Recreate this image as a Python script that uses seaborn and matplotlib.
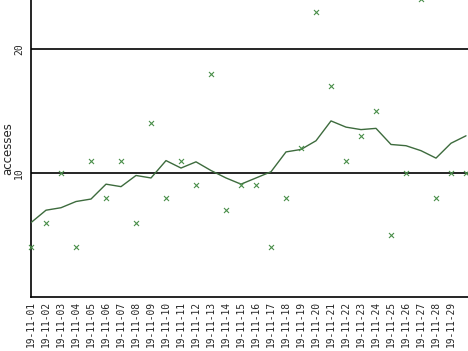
import matplotlib
matplotlib.use("Agg")
import matplotlib.pyplot as plt
import seaborn as sns
import pandas as pd
import numpy as np

dates = ["19-11-%02d" % d for d in range(1, 31)]
accesses = [4, 6, 10, 4, 11, 8, 11, 6, 14, 8, 11, 9, 18, 7, 9, 9, 4, 8, 12, 23,
            17, 11, 13, 15, 5, 10, 24, 8, 10, 10]
moving_avg = [6.0, 7.0, 7.2, 7.7, 7.9, 9.1, 8.9, 9.8, 9.6, 11.0, 10.4, 10.9, 10.2,
              9.6, 9.1, 9.6, 10.1, 11.7, 11.9, 12.6, 14.2, 13.7, 13.5, 13.6, 12.3,
              12.2, 11.8, 11.2, 12.4, 13.0]
tick_labels = dates[:29]
y_ticks = [10, 20]

df = pd.DataFrame({"idx": np.arange(len(dates)), "date": dates,
                   "accesses": accesses, "avg": moving_avg})

sns.set_style("white")
fig = plt.figure(figsize=(4.68, 3.51), dpi=100)
ax = fig.add_axes([31 / 468, 54 / 351, 1 - 31 / 468, 1 - 54 / 351])

for y in y_ticks:
    ax.axhline(y, color="black", lw=1.2, zorder=1)

sns.lineplot(data=df, x="idx", y="avg", ax=ax, color="#3d6b3d", lw=1.0, zorder=3)
sns.scatterplot(data=df, x="idx", y="accesses", ax=ax, marker="x", color="#4a8f4a",
                s=13, linewidth=0.8, zorder=4, clip_on=False)

ax.set_xlim(0, 437 / 15)
ax.set_ylim(0, 297 / 12.4)
ax.set_xticks(range(len(tick_labels)))
ax.set_xticklabels(tick_labels, rotation=90, family="DejaVu Sans Mono", fontsize=6.9)
ax.set_yticks(y_ticks)
ax.set_yticklabels([str(v) for v in y_ticks], rotation=90, va="center",
                   family="DejaVu Sans Mono", fontsize=7)
ax.tick_params(axis="x", length=0, pad=3)
ax.tick_params(axis="y", length=4, width=1, color="black", pad=1, direction="out")
ax.set_xlabel("")
ax.set_ylabel("accesses", fontsize=8.5)
ax.yaxis.set_label_coords(-0.0389, 0.5)

for s in ["top", "right"]:
    ax.spines[s].set_visible(False)
for s in ["left", "bottom"]:
    ax.spines[s].set_color("black")
    ax.spines[s].set_linewidth(1.2)

fig.savefig("out.png", dpi=100)
